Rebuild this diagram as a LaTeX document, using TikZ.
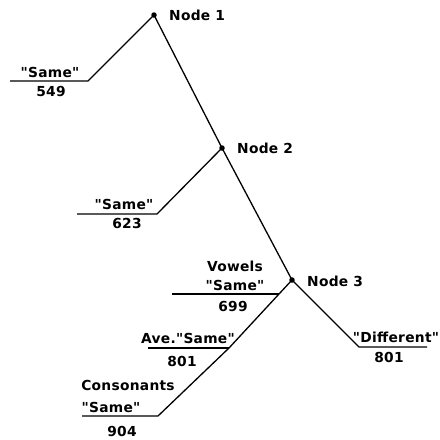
\documentclass[tikz,border=0pt]{standalone}
\usepackage{fontspec}
\newfontfamily\lett[LetterSpace=2]{DejaVu Sans Bold}
\begin{document}
\begin{tikzpicture}[x=1pt,y=-1pt,
  lbl/.style={font=\lett\fontsize{13.8}{15}\selectfont, inner sep=0pt},
  br/.style={line width=1.3pt, line join=round},
  dotn/.style={circle, fill=black, inner sep=0pt, minimum size=5.5pt}]
\useasboundingbox (0,0) rectangle (440,440);
% nodes
\node[dotn] (n1) at (154,15) {};
\node[dotn] (n2) at (222,148) {};
\node[dotn] (n3) at (292,280) {};
\node[lbl, anchor=west] (t1) at (169,15) {Node 1};
\node[lbl, anchor=west] (t2) at (237,148) {Node 2};
\node[lbl, anchor=west] (t3) at (307,281) {Node 3};
% corners
\coordinate (b1) at (88,81);   \coordinate (e1) at (10,81);
\coordinate (b2) at (157,214); \coordinate (e2) at (77,214);
\coordinate (b3) at (359,347); \coordinate (e3) at (427,347);
\coordinate (v) at (279,294);  \coordinate (ve) at (172,294);
\coordinate (a) at (229,348);  \coordinate (ae) at (148,348);
\coordinate (c) at (158,416);  \coordinate (ce) at (82,416);
% trunk
\draw[br] (n1.center) -- (n2.center) -- (n3.center);
\draw[br] (n1.center) -- (b1) -- (e1);
\draw[br] (n2.center) -- (b2) -- (e2);
\draw[br] (n3.center) -- (b3) -- (e3);
\draw[br] (n3.center) -- (v) -- (a) -- (c) -- (ce);
\draw[br] (v) -- (ve);
\draw[br] (a) -- (ae);
% labels
\node[lbl] (s1) at (50,72) {"Same"};
\node[lbl] (m1) at (51,91) {549};
\node[lbl] (s2) at (124,204) {"Same"};
\node[lbl] (m2) at (127,223) {623};
\node[lbl] (vw) at (235,266) {Vowels};
\node[lbl] (s3) at (235,285) {"Same"};
\node[lbl] (m3) at (233,306) {699};
\node[lbl] (s4) at (188,338) {Ave."Same"};
\node[lbl] (m4) at (182,361) {801};
\node[lbl] (cn) at (128,385) {Consonants};
\node[lbl] (s5) at (111,407) {"Same"};
\node[lbl] (m5) at (122,431) {904};
\node[lbl] (df) at (396,337) {"Different"};
\node[lbl] (m6) at (389,357) {801};
\end{tikzpicture}
\end{document}
